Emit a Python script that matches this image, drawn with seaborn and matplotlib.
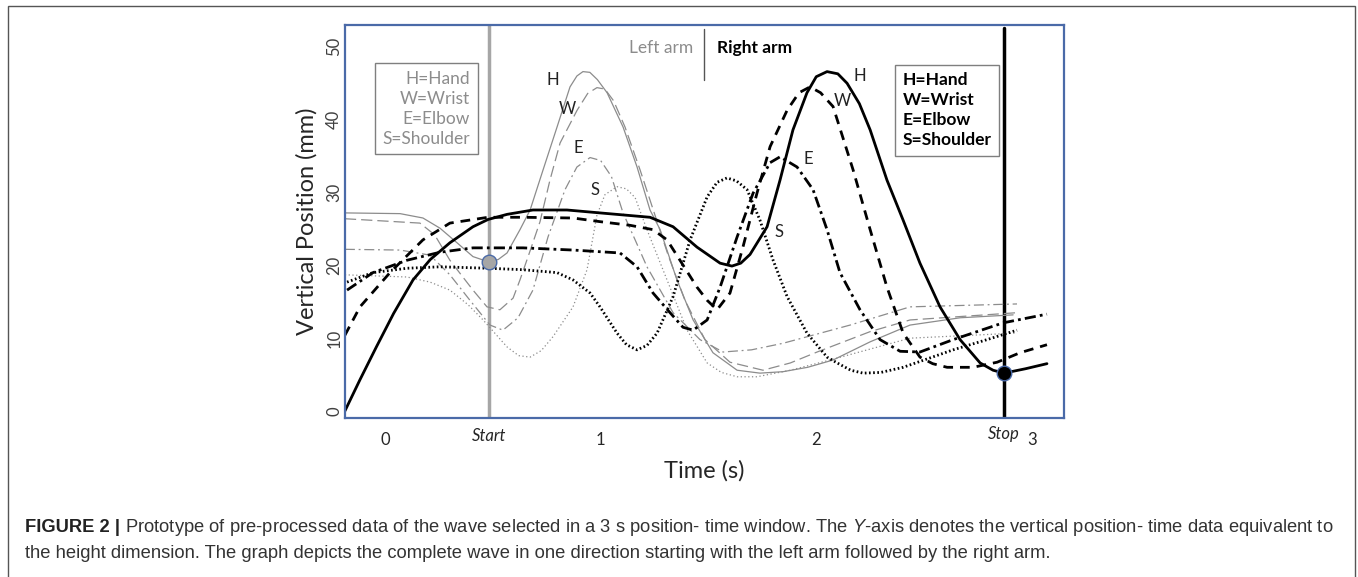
import numpy as np
import pandas as pd
import seaborn as sns
import matplotlib.pyplot as plt
from matplotlib.patches import Rectangle

# Left arm (grey, thin) - time (s), vertical position (mm)
left_hand_t = [-0.186, 0.07, 0.176, 0.255, 0.334, 0.408, 0.478, 0.525, 0.566, 0.626, 0.673, 0.733, 0.798, 0.858, 0.89,
               0.918, 0.95, 0.985, 1.03, 1.104, 1.169, 1.229, 1.276, 1.354, 1.429, 1.521, 1.633, 1.739, 1.846, 1.96,
               2.078, 2.25, 2.435, 2.667, 2.913]
left_hand_mm = [27.2, 27.1, 26.5, 25.1, 23.1, 21.2, 20.5, 20.8, 21.7, 24.9, 27.6, 33.1, 39.0, 44.5, 46.0,
                46.6, 46.5, 45.5, 43.7, 39.0, 33.5, 27.6, 24.9, 18.0, 12.5, 8.0, 5.6, 5.2, 5.4, 6.0,
                7.0, 9.5, 11.8, 12.8, 13.2]

left_wrist_t = [-0.186, 0.162, 0.23, 0.301, 0.408, 0.473, 0.533, 0.594, 0.626, 0.673, 0.719, 0.765, 0.812, 0.891, 0.94,
                0.983, 1.02, 1.06, 1.113, 1.183, 1.252, 1.313, 1.391, 1.484, 1.60, 1.753, 1.88, 2.004, 2.25, 2.435, 2.931]
left_wrist_mm = [26.4, 25.8, 24.2, 20.7, 16.6, 14.3, 13.9, 15.5, 18.0, 22.0, 26.0, 31.7, 36.8, 41.3, 43.6,
                 44.4, 44.2, 42.6, 39.0, 33.1, 26.9, 21.4, 15.2, 9.8, 6.7, 5.6, 6.6, 8.1, 10.9, 12.5, 13.5]

left_elbow_t = [-0.186, 0.07, 0.209, 0.301, 0.394, 0.487, 0.547, 0.617, 0.686, 0.756, 0.835, 0.89, 0.951, 1.0, 1.05,
                1.104, 1.16, 1.215, 1.336, 1.461, 1.568, 1.70, 1.846, 2.157, 2.435, 2.931]
left_elbow_mm = [22.2, 22.1, 21.4, 18.7, 15.2, 11.8, 11.1, 12.8, 16.6, 23.9, 30.4, 33.5, 34.8, 34.4, 32.2,
                 27.2, 23.5, 19.8, 13.5, 9.8, 8.1, 8.4, 9.3, 11.8, 14.3, 14.7]

left_shoulder_t = [-0.186, 0.102, 0.209, 0.301, 0.385, 0.455, 0.566, 0.62, 0.673, 0.725, 0.779, 0.872, 0.937, 0.983, 1.02,
                   1.076, 1.12, 1.16, 1.215, 1.308, 1.401, 1.494, 1.56, 1.633, 1.725, 1.88, 2.064, 2.435, 2.931]
left_shoulder_mm = [18.7, 18.4, 17.7, 16.6, 14.6, 12.5, 8.8, 7.6, 7.4, 8.3, 10.2, 14.3, 19.4, 26.9, 29.7,
                    30.8, 30.5, 29.3, 24.9, 18.0, 11.1, 6.6, 5.3, 4.7, 4.7, 5.6, 7.0, 10.0, 10.7]

# Right arm (black, thick)
right_hand_t = [-0.186, -0.116, -0.04, 0.04, 0.13, 0.21, 0.301, 0.408, 0.478, 0.566, 0.686, 0.844, 0.997, 1.229, 1.336,
                1.447, 1.554, 1.609, 1.65, 1.693, 1.772, 1.832, 1.892, 1.957, 2.0, 2.05, 2.1, 2.143, 2.2, 2.25,
                2.328, 2.403, 2.481, 2.574, 2.667, 2.76, 2.82, 2.871, 2.97, 3.07]
right_hand_mm = [0.0, 4.3, 8.8, 13.4, 18.0, 20.8, 23.1, 25.3, 26.3, 27.0, 27.6, 27.6, 27.2, 26.6, 25.3,
                 22.5, 20.3, 19.9, 20.3, 21.5, 25.3, 31.7, 38.6, 43.7, 45.9, 46.6, 46.3, 45.0, 42.2, 38.6,
                 31.7, 26.2, 20.3, 14.3, 9.8, 6.6, 5.6, 5.2, 5.8, 6.5]

right_wrist_t = [-0.186, -0.116, 0.023, 0.176, 0.301, 0.478, 0.64, 0.872, 0.997, 1.136, 1.243, 1.308, 1.368, 1.447, 1.494,
                 1.54, 1.60, 1.66, 1.725, 1.786, 1.865, 1.92, 1.971, 2.02, 2.078, 2.171, 2.25, 2.328, 2.403, 2.481,
                 2.54, 2.607, 2.727, 2.839, 2.945, 3.07]
right_wrist_mm = [10.4, 14.3, 19.0, 23.5, 25.8, 26.6, 26.6, 26.5, 26.0, 25.5, 24.9, 23.5, 20.7, 17.0, 15.2,
                  13.9, 16.2, 22.5, 29.9, 36.3, 41.3, 43.7, 44.5, 43.7, 41.8, 33.1, 24.9, 17.0, 10.7, 7.4,
                  6.5, 6.0, 6.0, 6.7, 8.0, 9.1]

right_elbow_t = [-0.176, -0.056, 0.102, 0.255, 0.408, 0.64, 0.872, 1.09, 1.169, 1.243, 1.322, 1.382, 1.429, 1.494, 1.554,
                 1.633, 1.707, 1.786, 1.832, 1.911, 1.985, 2.05, 2.11, 2.203, 2.296, 2.389, 2.481, 2.635, 2.866, 3.07]
right_elbow_mm = [16.6, 19.0, 20.7, 21.8, 22.4, 22.4, 22.1, 21.7, 19.8, 16.2, 13.5, 11.5, 11.1, 12.5, 17.0,
                  23.9, 29.9, 34.1, 34.9, 33.5, 30.4, 24.9, 19.0, 13.9, 9.8, 8.2, 8.1, 9.8, 12.1, 13.3]

right_shoulder_t = [-0.176, -0.056, 0.102, 0.255, 0.478, 0.64, 0.798, 0.872, 0.951, 0.997, 1.076, 1.12, 1.169, 1.215, 1.262,
                    1.336, 1.415, 1.494, 1.54, 1.586, 1.63, 1.679, 1.739, 1.80, 1.865, 1.957, 2.05, 2.097, 2.16, 2.217,
                    2.3, 2.403, 2.635, 2.792, 2.931]
right_shoulder_mm = [17.7, 19.0, 19.6, 19.8, 19.6, 19.4, 19.0, 18.0, 16.2, 14.3, 10.7, 9.1, 8.4, 9.0, 10.7,
                     15.7, 23.5, 29.4, 31.4, 32.0, 31.6, 30.4, 26.2, 20.7, 15.7, 10.7, 7.4, 6.6, 5.6, 5.2,
                     5.3, 6.0, 8.4, 9.8, 11.1]

start_t, start_mm = 0.482, 20.5
stop_t, stop_mm = 2.871, 5.2

x_ticks = [0, 1, 2, 3]
y_ticks = [0, 10, 20, 30, 40, 50]
legend_lines = ["H=Hand", "W=Wrist", "E=Elbow", "S=Shoulder"]
label_letters = ["H", "W", "E", "S"]
left_label_pos = [(0.779, 45.5), (0.848, 41.5), (0.895, 36.1), (0.974, 30.4)]
right_label_pos = [(2.203, 46.0), (2.12, 42.6), (1.962, 34.6), (1.827, 24.6)]

sns.set_style("white")
plt.rcParams['font.family'] = ['Lato', 'DejaVu Sans']
plt.rcParams['mathtext.fontset'] = 'custom'
plt.rcParams['mathtext.it'] = 'Liberation Sans:italic'
plt.rcParams['mathtext.rm'] = 'Liberation Sans'

fig = plt.figure(figsize=(13.58, 5.77), dpi=100)
ax = fig.add_axes([345 / 1358, 1 - 418 / 577, (1064 - 345) / 1358, (418 - 25) / 577])

grey = "#8c8c8c"
styles = {
    "H": "-",
    "W": (0, (9, 4)),
    "E": (0, (8, 3, 1.5, 3)),
    "S": (0, (1, 2)),
}
right_styles = {
    "H": "-",
    "W": (0, (3.5, 2.5)),
    "E": (0, (4, 1.5, 1, 1.5)),
    "S": (0, (0.6, 0.9)),
}
left = {"H": (left_hand_t, left_hand_mm), "W": (left_wrist_t, left_wrist_mm),
        "E": (left_elbow_t, left_elbow_mm), "S": (left_shoulder_t, left_shoulder_mm)}
right = {"H": (right_hand_t, right_hand_mm), "W": (right_wrist_t, right_wrist_mm),
         "E": (right_elbow_t, right_elbow_mm), "S": (right_shoulder_t, right_shoulder_mm)}

for k, (t, mm) in left.items():
    sns.lineplot(x=t, y=mm, ax=ax, sort=False, estimator=None, color=grey,
                 lw=0.9, linestyle=styles[k], solid_joinstyle="round", dash_joinstyle="round")
for k, (t, mm) in right.items():
    sns.lineplot(x=t, y=mm, ax=ax, sort=False, estimator=None, color="black",
                 lw=2.0, linestyle=right_styles[k], solid_joinstyle="round", dash_joinstyle="round")

# start / stop markers
ax.axvline(start_t, color="#a6a6a6", lw=2.5, zorder=1)
ax.plot([stop_t, stop_t], [-1, 52.6], color="black", lw=2.5, zorder=1)
ax.scatter([start_t], [start_mm], s=110, color="#a6a6a6", edgecolor="#4a6aa8", lw=1, zorder=5)
ax.scatter([stop_t], [stop_mm], s=110, color="black", edgecolor="#4a6aa8", lw=1, zorder=5)

for lab, (tx, ty) in zip(label_letters, left_label_pos):
    ax.text(tx, ty, lab, fontsize=12, ha="center", va="center", color="#222222")
for lab, (tx, ty) in zip(label_letters, right_label_pos):
    ax.text(tx, ty, lab, fontsize=12, ha="center", va="center", color="#222222")

# Left arm / Right arm header
ax.plot([1.48, 1.48], [45.4, 52.5], color="#555555", lw=1)
ax.text(1.43, 49.9, "Left arm", fontsize=12.5, color="#8c8c8c", ha="right", va="center")
ax.text(1.54, 49.9, "Right arm", fontsize=12.5, color="black", ha="left", va="center", fontweight="bold")

# legend boxes
ax.text(0.395, 41.5, "\n".join(legend_lines), fontsize=12.5, color="#8c8c8c", ha="right", va="center",
        linespacing=1.3,
        bbox=dict(boxstyle="square,pad=0.45", fc="white", ec="#7f7f7f", lw=1))
ax.text(2.4, 41.3, "\n".join(legend_lines), fontsize=12.5, color="black", ha="left", va="center",
        fontweight="bold", linespacing=1.3,
        bbox=dict(boxstyle="square,pad=0.45", fc="white", ec="#7f7f7f", lw=1))

ax.set_xlim(-0.1855, 3.149)
ax.set_ylim(-0.96, 53.0)
ax.set_xticks(x_ticks)
ax.set_xticklabels([str(v) for v in x_ticks], fontsize=12)
ax.set_yticks(y_ticks)
ax.set_yticklabels([str(v) for v in y_ticks], fontsize=12, rotation=90, va="center", color="#404040")
ax.tick_params(axis="y", length=0, pad=2)
ax.tick_params(axis="x", length=0, pad=10)
ax.text(start_t, -2.4, "Start", style="italic", fontsize=12, ha="center", va="top")
ax.text(stop_t, -2.0, "Stop", style="italic", fontsize=12, ha="center", va="top")
ax.set_xlabel("Time (s)", fontsize=17, labelpad=9)
ax.set_ylabel("Vertical Position (mm)", fontsize=17, labelpad=6)
for sp in ax.spines.values():
    sp.set_color("#4a6aa8")
    sp.set_linewidth(1.6)

# outer frame and caption
fig.patches.append(Rectangle((8 / 1358, -0.01), 1347 / 1358, 1 - 6 / 577 + 0.01, transform=fig.transFigure,
                             fill=False, ec="#555555", lw=1))
cap_font = ['Liberation Sans', 'DejaVu Sans']
fig.text(25 / 1358, 1 - 528 / 577, "FIGURE 2 |", fontsize=13.2, fontweight="bold", family=cap_font,
         va="center", color="#222222")
fig.text(125 / 1358, 1 - 528 / 577,
         "Prototype of pre-processed data of the wave selected in a 3 s position- time window. The $\\mathit{Y}$-axis denotes the vertical position- time data equivalent to",
         fontsize=13.2, family=cap_font, va="center", color="#333333")
fig.text(25 / 1358, 1 - 554 / 577,
         "the height dimension. The graph depicts the complete wave in one direction starting with the left arm followed by the right arm.",
         fontsize=13.2, family=cap_font, va="center", color="#333333")

fig.savefig("out.png", dpi=100)
